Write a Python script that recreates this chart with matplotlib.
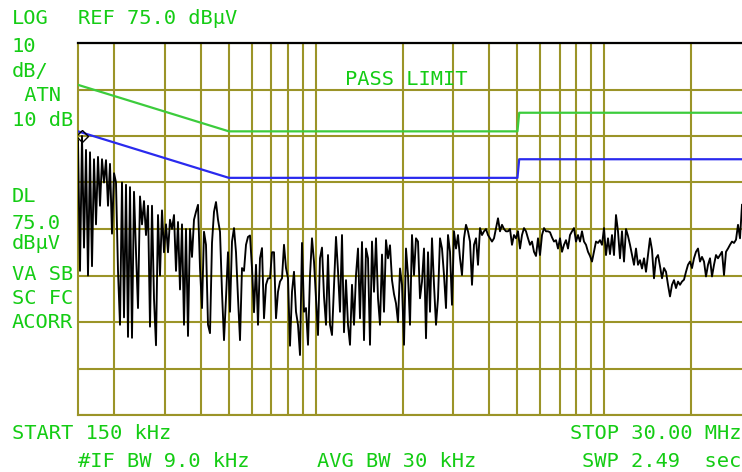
import numpy as np
import matplotlib
matplotlib.use("Agg")
import matplotlib.pyplot as plt
from matplotlib.ticker import NullLocator

# ---------------- data ----------------
f_start_hz = 150e3
f_stop_hz = 30e6
ref_level = 75.0
db_per_div = 10.0
n_div = 8

grid_freqs_hz = [2e5, 3e5, 4e5, 5e5, 6e5, 7e5, 8e5, 9e5,
                 1e6, 2e6, 3e6, 4e6, 5e6, 6e6, 7e6, 8e6, 9e6,
                 1e7, 2e7]

# limit lines (MHz, dBuV)
limit_freq_mhz = [0.15, 0.5, 5.0, 5.07, 30.0]
limit_qp = [66, 56, 56, 60, 60]
limit_avg = [56, 46, 46, 50, 50]

# measured trace (dBuV), sweep points evenly spaced on the log frequency axis
trace_db = [
    54, 26, 55, 31, 52, 25, 51.5, 27, 50, 36,
    50.5, 40, 50, 45, 49.8, 40, 49, 34, 47, 45,
    26, 14.4, 45, 16, 44.5, 11.8, 44, 11.6, 43, 30,
    18, 42, 36, 41, 33.7, 40, 14, 40, 20, 10,
    38, 25, 39, 30, 36, 30, 37, 35, 38, 26,
    36.5, 22, 36, 14.4, 35, 12, 35, 29, 37, 38.7,
    40.2, 26.6, 18, 34.4, 31.6, 14.4, 12.6, 32, 38.7, 40.8,
    37, 34.4, 21.4, 11.1, 20.2, 30, 17.2, 32.3, 35.2, 30,
    20.2, 11.1, 26.6, 26, 31.6, 33.3, 33.6, 26.6, 17.1, 27.3,
    14.4, 28.7, 30.9, 15.8, 23, 24.4, 24.4, 30, 30, 15.8,
    21.5, 23.7, 24.4, 31.6, 26.6, 24.4, 9.9, 21.5, 25.8, 17.2,
    14.4, 7.9, 32, 17.2, 18, 10.1, 25, 33, 28, 20,
    12.2, 28.7, 31, 20.5, 14.4, 29.4, 14.4, 12.2, 23, 33.3,
    26, 17.2, 33.7, 12.8, 24, 14.4, 10.1, 23, 14.4, 25.1,
    30.8, 15.8, 32.2, 11.1, 30.8, 28.7, 10.1, 32.3, 21.5, 33,
    20.1, 14.4, 29.5, 17.2, 32.6, 28.7, 31.5, 24, 21, 19,
    15, 26.5, 23, 10.1, 30.8, 25.1, 14.4, 33.7, 25.1, 33,
    32.3, 20.1, 23.7, 30.8, 11.5, 30, 17.2, 33, 23, 14.4,
    20.1, 33, 30.8, 25.1, 18, 33.7, 30.1, 18.7, 34.5, 30.8,
    33.7, 28.7, 25.1, 33, 35.9, 34.5, 32.3, 23, 31.6, 33,
    27.3, 35.2, 33.7, 34.5, 35, 33.7, 33, 32.3, 33, 35.2,
    37.3, 34.5, 35.9, 35, 34.5, 34.5, 35, 31.6, 33.7, 33,
    34.5, 30.8, 33.7, 35.2, 34.5, 33, 31.6, 32.3, 30.1, 29.2,
    33, 29.4, 33.7, 35.2, 34.5, 34.5, 34.3, 33.2, 32.3, 32.6,
    30.8, 33, 30.1, 31.6, 32.6, 30.8, 33.7, 34.5, 35.2, 32.3,
    33.7, 32.3, 34.5, 32.3, 31.6, 30.1, 29.2, 28, 30.1, 32.3,
    32, 32.6, 31.6, 35.2, 29.4, 33, 29.6, 33.7, 29.4, 38,
    34.5, 28.7, 34.5, 28, 35, 33.5, 31.6, 29.4, 27.3, 30.8,
    27.3, 28.3, 26.5, 28.7, 25.8, 29.4, 33, 30.5, 24.4, 28.7,
    29.4, 27, 24.4, 26.6, 25.8, 23, 20.5, 23, 24, 22.3,
    23.7, 23, 23.7, 24.1, 25.8, 27.3, 28, 26.6, 28.7, 30.1,
    30.8, 28, 29, 28, 24.8, 27.3, 28.7, 24.8, 27.3, 29.4,
    28.7, 29.4, 30.1, 25.1, 30.1, 30.8, 31.6, 32.3, 32, 32.7,
    35.9, 33, 40.2,
]
marker_index = 2

left_labels = ["LOG", "10", "dB/", " ATN", "10 dB",
               "DL", "75.0", "dB\u00b5V", "VA SB", "SC FC", "ACORR"]
left_label_y = [24.5, 52, 77, 101, 126, 202, 229, 249, 280, 304, 328]

# ---------------- style ----------------
W, H = 742, 472
GRID = "#9b9428"
TXT = "#14cc14"
QP_C = "#3ccc3c"
AV_C = "#2a2aee"

fig = plt.figure(figsize=(W / 100, H / 100), dpi=100)
fig.patch.set_facecolor("white")
ax = fig.add_axes([78 / W, (H - 415) / H, 664 / W, 372 / H])

ax.set_xscale("log")
ax.set_xlim(f_start_hz, f_stop_hz)
ax.set_ylim(ref_level - n_div * db_per_div, ref_level)

ax.set_xticks(grid_freqs_hz)
ax.xaxis.set_minor_locator(NullLocator())
ax.set_yticks([ref_level - k * db_per_div for k in range(n_div + 1)])
ax.tick_params(which="both", length=0, labelbottom=False, labelleft=False)
ax.grid(True, color=GRID, lw=1.5)
ax.set_axisbelow(True)

for s in ["left", "bottom"]:
    ax.spines[s].set_color(GRID)
    ax.spines[s].set_linewidth(1.5)
ax.spines["right"].set_visible(False)
ax.spines["top"].set_color("black")
ax.spines["top"].set_linewidth(1.6)

lf = np.array(limit_freq_mhz) * 1e6
ax.plot(lf, limit_qp, color=QP_C, lw=1.6, zorder=3)
ax.plot(lf, limit_avg, color=AV_C, lw=1.6, zorder=3)

freqs = np.geomspace(f_start_hz, f_stop_hz, len(trace_db))
ax.plot(freqs, trace_db, color="black", lw=1.35, zorder=4)
ax.plot(freqs[marker_index], trace_db[marker_index], marker="D", ms=6,
        mfc="none", mec="black", mew=1.0, zorder=5)

# ---------------- text ----------------
FS = 14.7
FONT = "DejaVu Sans Mono"


def put(x, y, s, **kw):
    fig.text(x / W, 1 - y / H, s, color=TXT, fontsize=FS, family=FONT,
             va="baseline", ha="left", **kw)


for s, y in zip(left_labels, left_label_y):
    put(12, y, s)
put(78, 24.5, "REF 75.0 dB\u00b5V")
put(345, 85, "PASS LIMIT")
put(12, 439, "START 150 kHz")
put(570, 439, "STOP 30.00 MHz")
put(78, 467, "#IF BW 9.0 kHz")
put(317, 467, "AVG BW 30 kHz")
put(582, 467, "SWP 2.49  sec")

fig.savefig("out.png", dpi=100, facecolor="white")
